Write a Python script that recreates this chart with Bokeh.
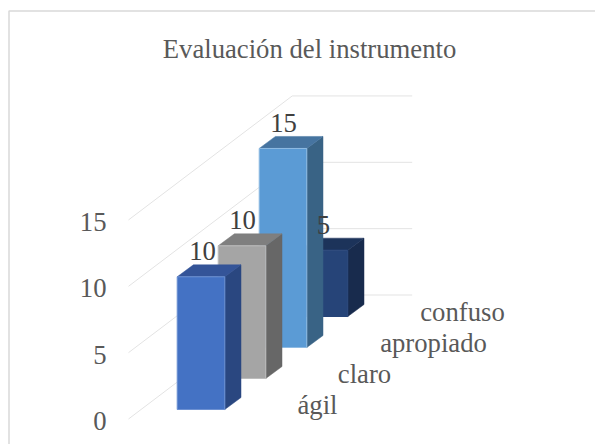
from bokeh.plotting import figure
from bokeh.models import Range1d
from bokeh.core.properties import value
from bokeh.embed import file_html
from bokeh.resources import INLINE

TITLE = "Evaluación del instrumento"
categories = ["ágil", "claro", "apropiado", "confuso"]
values = [10, 10, 15, 5]
y_ticks = [0, 5, 10, 15]
face_colors = ["#4472C4", "#A5A5A5", "#5B9BD5", "#264478"]
top_colors = ["#345498", "#7F7F7F", "#4674A0", "#1C335A"]
side_colors = ["#2A4780", "#676767", "#396385", "#182B4D"]
edge_colors = ["#6C90D2", "#BDBDBD", "#8FBBE3", "#264478"]

# Oblique projection of the chart's 3D box, in page pixels
PX_PER_UNIT = 13.27
ORIGIN_X, ORIGIN_Y = 176.7, 409.0      # front-left foot of the first bar
STEP_X, STEP_Y = 41.0, 31.0            # shift per category going back
BAR_W = 47.6
SIDE_X, SIDE_Y = 16.2, 12.0
WALL_L, WALL_M, WALL_R = 128.0, 291.7, 411.7
FLOOR_L, FLOOR_B = 418.5, 294.5


def u(px):
    """Page pixel row as a value on the chart's y scale."""
    return (ORIGIN_Y - px) / PX_PER_UNIT


p = figure(width=595, height=444, output_backend="svg", toolbar_location=None,
           x_range=Range1d(0, 595), y_range=Range1d(u(444), u(0)),
           x_axis_type="linear", min_border=0, outline_line_color=None)
p.xaxis.visible = False
p.yaxis.visible = False
p.grid.visible = False

# Outer frame: the chart area is cut off on its right and lower sides
p.line([595, 8.5, 8.5], [u(10.5), u(10.5), u(444)], line_color="#D9D9D9", line_width=1.5)

# Gridlines on side wall and back wall
for t in y_ticks:
    p.line([WALL_L, WALL_M, WALL_R],
           [u(FLOOR_L) + t, u(FLOOR_B) + t, u(FLOOR_B) + t],
           line_color="#E3E3E3", line_width=1)

# Bars, back to front
for i in reversed(range(len(values))):
    x0 = ORIGIN_X + STEP_X * i
    x1 = x0 + BAR_W
    b = u(ORIGIN_Y - STEP_Y * i)
    v = values[i]
    dy = SIDE_Y / PX_PER_UNIT
    p.patch([x1, x1 + SIDE_X, x1 + SIDE_X, x1],
            [b, b + dy, b + v + dy, b + v],
            fill_color=side_colors[i], line_color=side_colors[i], line_width=0.5)
    p.patch([x0, x1, x1 + SIDE_X, x0 + SIDE_X],
            [b + v, b + v, b + v + dy, b + v + dy],
            fill_color=top_colors[i], line_color=top_colors[i], line_width=0.5)
    p.quad(left=x0, right=x1, bottom=b, top=b + v,
           fill_color=face_colors[i], line_color=edge_colors[i], line_width=1)

font = value("Liberation Serif")
SIZE = "26.7px"
p.text(x=[309], y=[u(48)], text=[TITLE], text_font=font, text_font_size=SIZE,
       text_color="#595959", text_align="center", text_baseline="middle")

# Value axis labels
p.text(x=[106] * len(y_ticks), y=[u(FLOOR_L + 2) + t for t in y_ticks],
       text=[str(t) for t in y_ticks], text_font=font, text_font_size=SIZE,
       text_color="#595959", text_align="right", text_baseline="middle")

# Category labels
p.text(x=[317, 364, 433, 462],
       y=[u(404 - STEP_Y * i) for i in range(4)],
       text=categories, text_font=font, text_font_size=SIZE,
       text_color="#595959", text_align="center", text_baseline="middle")

# Data labels
p.text(x=[202, 242, 283, 323],
       y=[u(ORIGIN_Y - STEP_Y * i - 25.5) + values[i] for i in range(4)],
       text=[str(v) for v in values], text_font=font, text_font_size=SIZE,
       text_color="#404040", text_align="center", text_baseline="middle")

open("out.html", "w").write(file_html(p, INLINE))
